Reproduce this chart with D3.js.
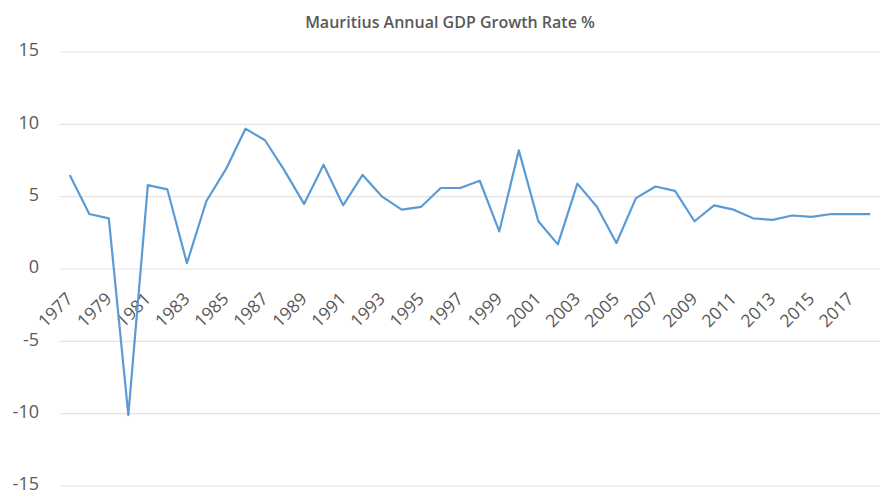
<!DOCTYPE html>
<html>
<head>
<meta charset="utf-8">
<script src="https://cdn.jsdelivr.net/npm/d3@7"></script>
<style>
  body { margin: 0; background: #fff; }
  svg { display: block; }
</style>
</head>
<body>
<div id="chart"></div>
<script>
// Data
const years = d3.range(1977, 2019);
const growth = [
  6.5, 3.8, 3.5, -10.1, 5.8, 5.5, 0.4, 4.7, 6.9, 9.7,
  8.9, 6.8, 4.5, 7.2, 4.4, 6.5, 5.0, 4.1, 4.3, 5.6,
  5.6, 6.1, 2.6, 8.2, 3.3, 1.7, 5.9, 4.3, 1.8, 4.9,
  5.7, 5.4, 3.3, 4.4, 4.1, 3.5, 3.4, 3.7, 3.6, 3.8,
  3.8, 3.8
];
const yTicks = [-15, -10, -5, 0, 5, 10, 15];
const xLabels = years.filter((d, i) => i % 2 === 0);

function drawChart() {
    const W = 892, H = 496;
    const margin = {top: 52, right: 12, bottom: 10, left: 60};

    const svg = d3.select("#chart")
        .append("svg")
        .attr("width", W)
        .attr("height", H);

    const x = d3.scaleBand()
        .domain(years)
        .range([margin.left, W - margin.right]);

    const y = d3.scaleLinear()
        .domain([-15, 15])
        .range([H - margin.bottom, margin.top]);

    const textColor = "#595959";
    const font = "'Open Sans', 'Liberation Sans', sans-serif";

    // Gridlines
    svg.append("g")
        .selectAll("line")
        .data(yTicks)
        .enter()
        .append("line")
        .attr("x1", margin.left)
        .attr("x2", W - margin.right)
        .attr("y1", d => y(d))
        .attr("y2", d => y(d))
        .attr("stroke", "#e3e3e3")
        .attr("stroke-width", 1.2);

    // Y axis labels (plain hyphen for negatives, like the original)
    const yAxis = svg.append("g")
        .attr("transform", `translate(${margin.left - 21},-2)`)
        .call(d3.axisLeft(y).tickValues(yTicks).tickSize(0).tickPadding(0)
            .tickFormat(d => String(d)));
    yAxis.select(".domain").remove();
    yAxis.selectAll("text")
        .style("font-family", font)
        .style("font-size", "18px")
        .style("fill", textColor);

    // X labels, rotated, sitting under the zero line
    svg.append("g")
        .selectAll("text")
        .data(xLabels)
        .enter()
        .append("text")
        .attr("transform", d => `translate(${x(d) + x.bandwidth() / 2 + 4},${y(0) + 31}) rotate(-45)`)
        .attr("text-anchor", "end")
        .style("font-family", font)
        .style("font-size", "17.5px")
        .style("fill", textColor)
        .text(d => d);

    // Growth line
    const line = d3.line()
        .x((d, i) => x(years[i]) + x.bandwidth() / 2)
        .y(d => y(d));

    svg.append("path")
        .datum(growth)
        .attr("fill", "none")
        .attr("stroke", "#5b9bd5")
        .attr("stroke-width", 2.2)
        .attr("stroke-linejoin", "round")
        .attr("d", line);

    // Title
    svg.append("text")
        .attr("x", 450)
        .attr("y", 28)
        .attr("text-anchor", "middle")
        .style("font-family", font)
        .style("font-size", "16px")
        .style("font-weight", "600")
        .style("fill", textColor)
        .text("Mauritius Annual GDP Growth Rate %");
}

drawChart();
</script>
</body>
</html>
